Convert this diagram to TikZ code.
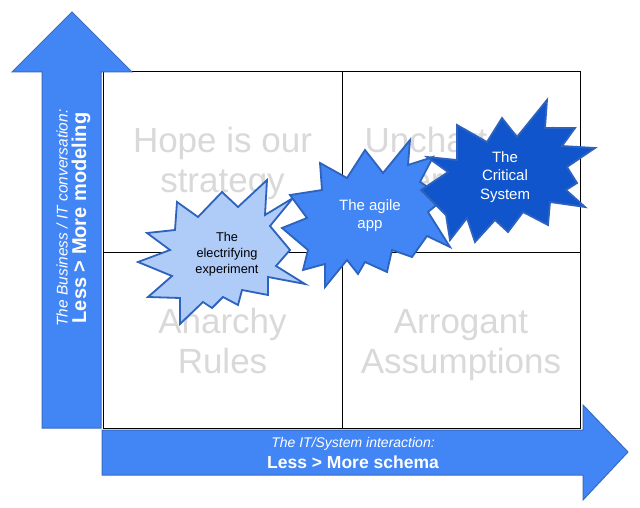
\documentclass[tikz,border=0pt]{standalone}
\usepackage{fontspec}
\setmainfont{Liberation Sans}
\definecolor{arrowblue}{HTML}{4285F4}
\definecolor{arrowedge}{HTML}{3A6BC2}
\definecolor{lightburst}{HTML}{AFCBF7}
\definecolor{midburst}{HTML}{4285F4}
\definecolor{darkburst}{HTML}{1155CC}
\definecolor{burstedge}{HTML}{2D62BD}
\definecolor{quadgray}{HTML}{D9D9D9}
\begin{document}
\begin{tikzpicture}[x=1pt,y=-1pt,
  arrowshape/.style={fill=arrowblue,draw=arrowedge,line width=1pt,line join=miter},
  burst/.style={draw=burstedge,line width=1.8pt,line join=miter},
  gridline/.style={draw=black,line width=1pt},
  quadtext/.style={text=quadgray,font=\fontsize{35}{40}\selectfont,anchor=base,inner sep=0pt},
  axisital/.style={text=white,font=\fontsize{14}{16}\selectfont\itshape,anchor=base,inner sep=0pt},
  axisbold/.style={text=white,font=\fontsize{17.5}{20}\selectfont\bfseries,anchor=base,inner sep=0pt},
  vaxisital/.style={text=white,font=\fontsize{15.5}{18}\selectfont\itshape,anchor=base,inner sep=0pt},
  vaxisbold/.style={text=white,font=\fontsize{20}{22}\selectfont\bfseries,anchor=base,inner sep=0pt},
  bursttext/.style={align=center,inner sep=0pt}]
\useasboundingbox (0,0) rectangle (640,508);
\fill[white] (0,0) rectangle (640,508);
% grid
\draw[gridline] (103,72) rectangle (580,428);
\draw[gridline] (342,72) -- (342,428);
\draw[gridline] (103,252) -- (580,252);
% quadrant texts
\node[quadtext] (hope1) at (222.5,153) {Hope is our};
\node[quadtext] (hope2) at (222.5,193) {strategy};
\node[quadtext] (unch1) at (461,153) {Unchartered};
\node[quadtext] (unch2) at (461,193) {territory};
\node[quadtext] (anar1) at (222.5,333) {Anarchy};
\node[quadtext] (anar2) at (222.5,373) {Rules};
\node[quadtext] (arro1) at (461,333) {Arrogant};
\node[quadtext] (arro2) at (461,373) {Assumptions};
% axis arrows
\draw[arrowshape] (42,428) -- (42,72) -- (12,72) -- (72,12) -- (132,72) -- (101,72) -- (101,428) -- cycle;
\draw[arrowshape] (102,430) -- (583,430) -- (583,405) -- (628,452) -- (583,500) -- (583,475) -- (102,475) -- cycle;
\node[vaxisital,rotate=90] (vlab1) at (67.5,218) {The Business / IT conversation:};
\node[vaxisbold,rotate=90] (vlab2) at (86,218) {Less > More modeling};
\node[axisital] (hlab1) at (353,447) {The IT/System interaction:};
\node[axisbold] (hlab2) at (353,468.5) {Less > More schema};
% bursts
\draw[burst,fill=lightburst] (147,233) -- (175,230) -- (177,202) -- (198,217) -- (222,192) -- (238,207) -- (267,180) -- (265,215) -- (293,198) -- (270,226) -- (290,250) -- (276,266) -- (305,284) -- (268,277) -- (268,295) -- (242,290) -- (238,305) -- (223,297) -- (212,308) -- (203,302) -- (180,324) -- (180,298) -- (148,297) -- (172,276) -- (138,262) -- (170,250) -- cycle;
\draw[burst,fill=midburst] (365,150) -- (383,173) -- (410,140) -- (408,165) -- (433,157) -- (420,182) -- (445,198) -- (428,212) -- (450,247) -- (427,236) -- (412,257) -- (392,250) -- (387,272) -- (365,262) -- (358,274) -- (347,260) -- (325,287) -- (325,264) -- (303,270) -- (308,250) -- (282,228) -- (307,218) -- (290,195) -- (322,190) -- (320,163) -- (347,178) -- cycle;
\draw[burst,fill=darkburst] (547,100) -- (545,128) -- (575,128) -- (562,146) -- (595,148) -- (567,167) -- (577,183) -- (566,190) -- (585,207) -- (550,202) -- (548,225) -- (523,212) -- (508,232) -- (495,220) -- (475,242) -- (467,218) -- (450,240) -- (446,215) -- (421,190) -- (448,172) -- (427,157) -- (457,160) -- (457,125) -- (487,142) -- (502,118) -- (517,137) -- cycle;
% burst labels
\node[bursttext,text=black,font=\fontsize{12.75}{16}\selectfont] (elec) at (227,254) {The\\electrifying\\experiment};
\node[bursttext,text=white,font=\fontsize{15}{18}\selectfont] (agile) at (370,216) {The agile\\app};
\node[bursttext,text=white,font=\fontsize{15}{18.3}\selectfont] (crit) at (505,177) {The\\Critical\\System};
\end{tikzpicture}
\end{document}
